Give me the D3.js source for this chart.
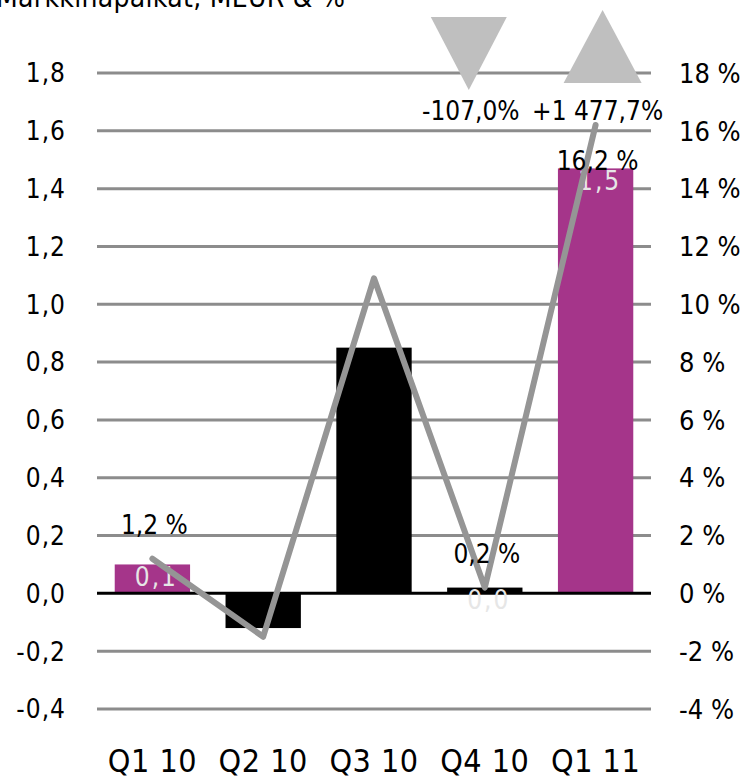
<!DOCTYPE html>
<html><head><meta charset="utf-8">
<script src="https://cdn.jsdelivr.net/npm/d3@7"></script>
<style>body{margin:0;background:#fff}svg{display:block}text{font-family:"DejaVu Sans Condensed","DejaVu Sans",sans-serif}</style>
</head><body>
<script>
const categories = ["Q1 10","Q2 10","Q3 10","Q4 10","Q1 11"];
const barValues = [0.1, -0.12, 0.85, 0.02, 1.47];
const barColors = ["#a5358a","#000000","#000000","#000000","#a5358a"];
const barLabels = ["0,1", null, null, "0,0", "1,5"];
const pctValues = [1.2, -1.5, 10.9, 0.2, 16.2];
const pctLabels = ["1,2 %", null, null, "0,2 %", "16,2 %"];
const leftTicks = [-0.4,-0.2,0,0.2,0.4,0.6,0.8,1.0,1.2,1.4,1.6,1.8];
const rightTicks = [-4,-2,0,2,4,6,8,10,12,14,16,18];
const changeLabels = [{cat:"Q4 10", text:"-107,0%", dir:"down"},{cat:"Q1 11", text:"+1 477,7%", dir:"up"}];
const title = "Markkinapaikat, MEUR & %";

const W=742,H=781;
const svg=d3.select("body").append("svg").attr("width",W).attr("height",H);
const x=d3.scaleBand().domain(categories).range([97,651]).paddingInner(0.32).paddingOuter(0.16);
const yL=d3.scaleLinear().domain([-0.4,1.8]).range([709,73]);
const yR=d3.scaleLinear().domain([-4,18]).range([709,73]);
const fmt=v=>d3.format(".1f")(v).replace(".",",").replace("\u2212","-");

svg.append("text").attr("x",-4).attr("y",7).attr("font-size",28).attr("letter-spacing",0.3).text(title);

// gridlines
svg.append("g").selectAll("line").data(leftTicks.filter(t=>t!==0)).join("line")
 .attr("x1",97).attr("x2",651).attr("y1",d=>yL(d)).attr("y2",d=>yL(d))
 .attr("stroke","#8c8c8c").attr("stroke-width",3);

// left labels
svg.append("g").selectAll("text").data(leftTicks).join("text")
 .attr("x",66).attr("y",d=>yL(d)).attr("dy","0.36em").attr("text-anchor","end")
 .attr("font-size",26).attr("letter-spacing",1).text(d=>fmt(d));
// right labels
svg.append("g").selectAll("text").data(rightTicks).join("text")
 .attr("x",679).attr("y",d=>yR(d)).attr("dy","0.36em")
 .attr("font-size",27).text(d=>d+" %");

// bars
svg.append("g").selectAll("rect").data(barValues).join("rect")
 .attr("x",(d,i)=>x(categories[i])).attr("width",x.bandwidth())
 .attr("y",d=>yL(Math.max(0,d))).attr("height",d=>Math.abs(yL(d)-yL(0)))
 .attr("fill",(d,i)=>barColors[i]);

// zero line
svg.append("line").attr("x1",97).attr("x2",651).attr("y1",yL(0)).attr("y2",yL(0))
 .attr("stroke","#000").attr("stroke-width",3);

// bar labels
svg.append("g").selectAll("text").data(barValues).join("text")
 .attr("x",(d,i)=>x(categories[i])+x.bandwidth()/2+4).attr("y",d=>yL(Math.max(0,d))+3)
 .attr("dy","0.7em").attr("text-anchor","middle").attr("font-size",26).attr("letter-spacing",2).attr("fill","#e6e6e6")
 .text((d,i)=>barLabels[i]||"");

// line
const line=d3.line().x((d,i)=>x(categories[i])+x.bandwidth()/2).y(d=>yR(d));
svg.append("path").attr("d",line(pctValues)).attr("fill","none")
 .attr("stroke","#959595").attr("stroke-width",6).attr("stroke-linejoin","round").attr("stroke-linecap","round");

// pct labels
svg.append("g").selectAll("text").data(pctValues).join("text")
 .attr("x",(d,i)=>x(categories[i])+x.bandwidth()/2+2).attr("y",(d,i)=>i===4?yR(d)+45:yR(d)-25)
 .attr("text-anchor","middle").attr("font-size",26).attr("fill","#000")
 .text((d,i)=>pctLabels[i]||"");

// change indicators
changeLabels.forEach(c=>{
  const cx=x(c.cat)+x.bandwidth()/2;
  const g=svg.append("g");
  if(c.dir==="down"){
    const tx=cx-16;
    g.append("path").attr("d",`M${tx-38},17 L${tx+38},17 L${tx},90 Z`).attr("fill","#bfbfbf");
  } else {
    const tx=cx+7;
    g.append("path").attr("d",`M${tx-39},83 L${tx+39},83 L${tx},10 Z`).attr("fill","#bfbfbf");
  }
  g.append("text").attr("x",cx+(c.dir==="down"?-14:2)).attr("y",120).attr("text-anchor","middle")
   .attr("font-size",26).text(c.text);
});

// x labels
svg.append("g").selectAll("text").data(categories).join("text")
 .attr("x",d=>x(d)+x.bandwidth()/2).attr("y",772).attr("text-anchor","middle")
 .attr("font-size",32).attr("letter-spacing",0.5).text(d=>d);
</script>
</body></html>
